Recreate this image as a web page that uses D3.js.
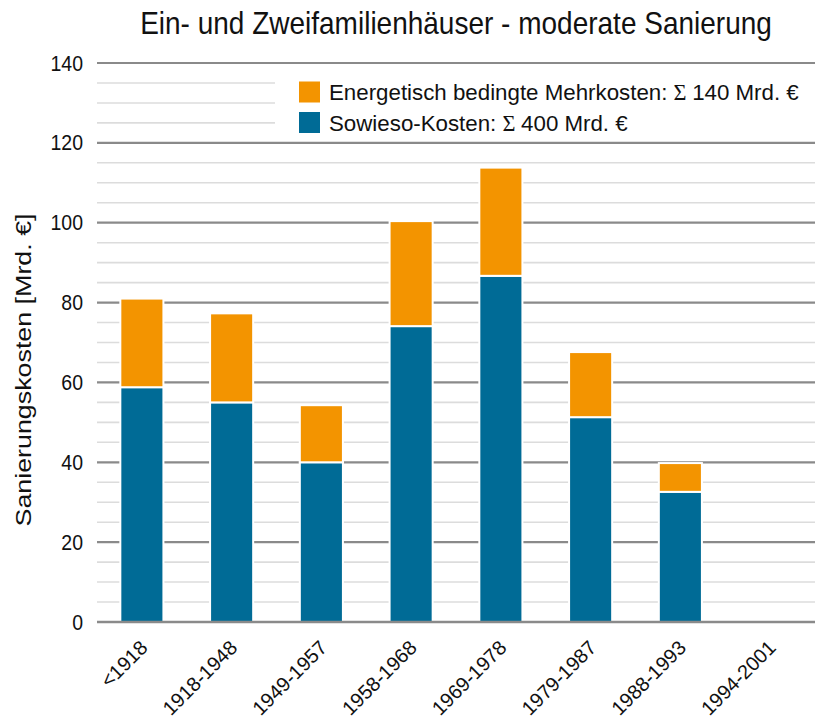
<!DOCTYPE html>
<html>
<head>
<meta charset="utf-8">
<script src="https://cdn.jsdelivr.net/npm/d3@7"></script>
<style>
  html, body { margin: 0; padding: 0; background: #fff; }
  svg { display: block; font-family: "Liberation Sans", Arial, sans-serif; }
</style>
</head>
<body>
<svg id="chart" width="825" height="727"></svg>
<script>
// Construction periods and renovation costs (billion €)
const periods = ["<1918", "1918-1948", "1949-1957", "1958-1968", "1969-1978", "1979-1987", "1988-1993", "1994-2001"];
const sowiesoKosten = [58.8, 55.0, 40.0, 74.1, 86.7, 51.3, 32.6, 0];
const energetischeMehrkosten = [22.2, 22.3, 14.3, 26.3, 27.1, 16.3, 7.2, 0];
const yTicks = [0, 20, 40, 60, 80, 100, 120, 140];
const legendLabels = [
  { name: "Energetisch bedingte Mehrkosten: ", sum: "140 Mrd. €", color: "#f39400" },
  { name: "Sowieso-Kosten: ", sum: "400 Mrd. €", color: "#006b96" }
];

const svg = d3.select("#chart");
const margin = { left: 97, right: 10, top: 63, bottom: 105 };
const width = 825, height = 727;

const x = d3.scaleBand().domain(periods)
  .range([margin.left, width - margin.right])
  .paddingInner(0.52).paddingOuter(0.26);
const y = d3.scaleLinear().domain([0, 140]).range([height - margin.bottom, margin.top]);

// Title (slightly tall lettering)
svg.append("text")
  .attr("transform", "translate(456,34) scale(1,1.12)")
  .attr("text-anchor", "middle")
  .attr("font-size", 28)
  .attr("fill", "#111")
  .text("Ein- und Zweifamilienhäuser - moderate Sanierung");

// Gridlines: minor every 5, major every 20
const minor = d3.range(5, 140, 5).filter(v => v % 20 !== 0);
svg.append("g").selectAll("line").data(minor).join("line")
  .attr("x1", margin.left).attr("x2", width - margin.right)
  .attr("y1", d => y(d)).attr("y2", d => y(d))
  .attr("stroke", "#dcdcdc").attr("stroke-width", 1.6);

svg.append("g").selectAll("line").data(yTicks.filter(v => v > 0)).join("line")
  .attr("x1", margin.left).attr("x2", width - margin.right)
  .attr("y1", d => y(d)).attr("y2", d => y(d))
  .attr("stroke", "#8a8a8a").attr("stroke-width", 2.2);

// Y axis tick labels
svg.append("g").selectAll("text").data(yTicks).join("text")
  .attr("transform", d => `translate(83,${y(d) + 7.5}) scale(1,1.1)`)
  .attr("text-anchor", "end")
  .attr("font-size", 19.5)
  .attr("fill", "#111")
  .text(d => d);

// Y axis title
svg.append("text")
  .attr("transform", `translate(31,370) rotate(-90) scale(1.22,1)`)
  .attr("text-anchor", "middle")
  .attr("font-size", 22)
  .attr("fill", "#111")
  .text("Sanierungskosten [Mrd. €]");

// Stacked bars
const stackData = periods.map((p, i) => ({ period: p, sowieso: sowiesoKosten[i], energie: energetischeMehrkosten[i] }));
const series = d3.stack().keys(["sowieso", "energie"])(stackData);
const colors = { sowieso: "#006b96", energie: "#f39400" };

svg.append("g").selectAll("g").data(series).join("g")
  .attr("fill", d => colors[d.key])
  .selectAll("rect").data(d => d.filter(s => s[1] - s[0] > 0)).join("rect")
  .attr("x", d => x(d.data.period))
  .attr("width", x.bandwidth())
  .attr("y", d => y(d[1]))
  .attr("height", d => y(d[0]) - y(d[1]))
  .attr("stroke", "#fff")
  .attr("stroke-width", 2);

// Baseline
svg.append("line")
  .attr("x1", margin.left).attr("x2", width - margin.right)
  .attr("y1", y(0)).attr("y2", y(0))
  .attr("stroke", "#8a8a8a").attr("stroke-width", 2.6);

// X axis labels
svg.append("g").selectAll("text").data(periods).join("text")
  .attr("transform", d => `translate(${x(d) + x.bandwidth() / 2 + 2},${y(0) + 22}) rotate(-45)`)
  .attr("text-anchor", "end")
  .attr("dy", "0.35em")
  .attr("font-size", 20)
  .attr("fill", "#111")
  .text(d => d);

// Legend
const lg = svg.append("g");
lg.append("rect")
  .attr("x", 275).attr("y", y(140) + 3)
  .attr("width", width - margin.right - 275).attr("height", y(120) - y(140) - 6)
  .attr("fill", "#fff");
legendLabels.forEach((l, i) => {
  const cy = 92 + i * 30.5;
  lg.append("rect")
    .attr("x", 299).attr("y", cy - 10.5)
    .attr("width", 21).attr("height", 21)
    .attr("fill", l.color);
  const t = lg.append("text")
    .attr("x", 329).attr("y", cy)
    .attr("dy", "0.36em")
    .attr("font-size", 22.3)
    .attr("fill", "#111");
  t.append("tspan").text(l.name);
  t.append("tspan").attr("font-family", "Liberation Serif, serif").text("Σ ");
  t.append("tspan").text(l.sum);
});
</script>
</body>
</html>
